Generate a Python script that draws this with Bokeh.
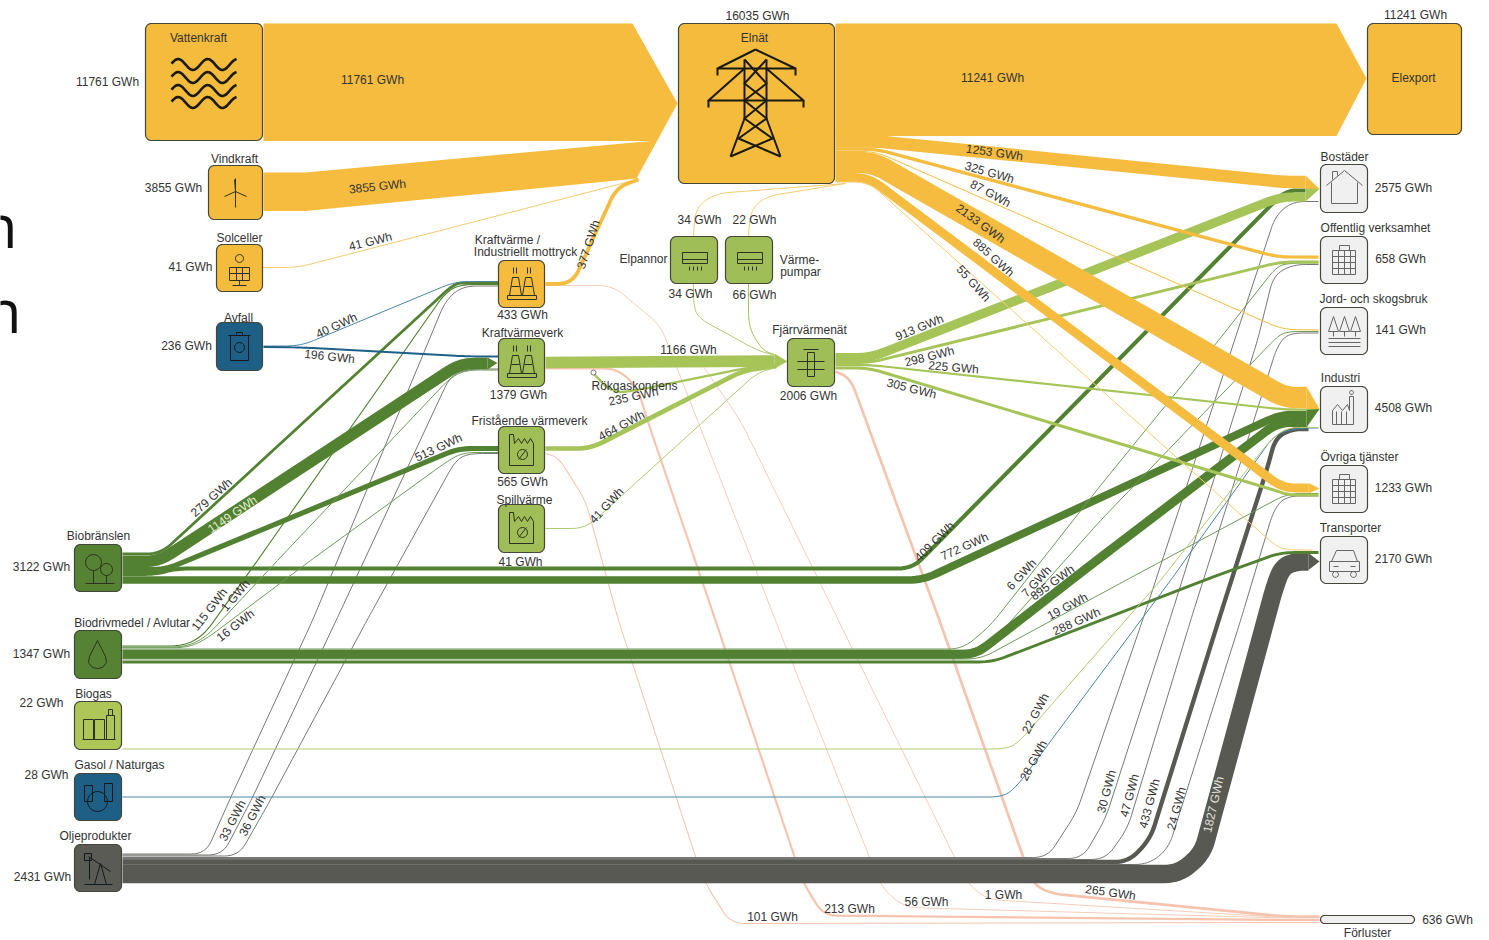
import math
from bokeh.plotting import figure
from bokeh.models import Range1d, ColumnDataSource
from bokeh.core.properties import value
from bokeh.embed import file_html
from bokeh.resources import INLINE

# ---------------- DATA ----------------
node_names = ["Vattenkraft", "Vindkraft", "Solceller", "Avfall", "Kraftvärme", "Kraftvärmeverk",
              "Fristående värmeverk", "Spillvärme", "Biobränslen", "Biodrivmedel / Avlutar", "Biogas",
              "Gasol / Naturgas", "Oljeprodukter", "Elnät", "Elexport", "Elpannor", "Värmepumpar",
              "Fjärrvärmenät", "Bostäder", "Offentlig verksamhet", "Jord- och skogsbruk", "Industri",
              "Övriga tjänster", "Transporter", "Förluster"]
node_values = [11761, 3855, 41, 236, 433, 1379, 565, 41, 3122, 1347, 22, 28, 2431, 16035, 11241, 34, 66,
               2006, 2575, 658, 141, 4508, 1233, 2170, 636]

flow_source = ["Vattenkraft", "Vindkraft", "Elnät"]
flow_value = [11761, 3855, 11241]

pink_values = [101, 213, 56, 1, 265]
gray_values = [1, 1, 1, 30, 30, 47, 433, 24, 1827]
gray_labels = [33, 36]
dark_values = [279, 1149, 513, 409, 772, 115, 1, 16, 6, 7, 895, 19, 288]
blue_values = [40, 196, 28]
light_values = [22, 1166, 34, 66, 235, 464, 41, 913, 298, 225, 305]
yellow_values = [41, 377, 1253, 325, 87, 2133, 885, 55, 34, 22]

unit_text = "GWh"

# ---------------- LAYOUT (pixel routes of the Sankey) ----------------
pink_routes = [
    [(545, 453), (558, 457), (585, 500), (618, 620), (694, 853), (705, 883), (730, 923), (1319, 922)],
    [(545, 368), (617, 368), (637, 387), (647, 420), (715, 620), (803, 883), (823, 915), (1284, 919.5), (1319, 919.5)],
    [(545, 285), (612, 285), (660, 325), (775, 620), (881, 887), (904, 907), (1284, 917.5), (1319, 917.5)],
    [(700, 362), (740, 420), (838, 620), (967, 883), (987, 899), (1284, 917), (1319, 917)],
    [(835, 371), (850, 378), (939, 620), (1032, 883), (1050, 893), (1284, 916), (1319, 916)],
]
gray_routes = [
    [(122, 853.5), (205, 853.5), (232, 793), (312, 620), (445, 300), (462, 285.5), (498, 285.5)],
    [(122, 854.5), (222, 854.5), (252, 797), (337, 617), (450, 375), (468, 368.5), (498, 368.5)],
    [(122, 855.5), (238, 855.5), (268, 803), (368, 617), (455, 460), (468, 453), (498, 453)],
    [(122, 857), (1047, 857), (1076, 812), (1143, 617), (1275, 215), (1292, 201), (1318, 201)],
    [(122, 858), (1082, 858), (1105, 818), (1170, 617), (1257, 340), (1273, 275), (1292, 264), (1318, 264)],
    [(122, 859), (1105, 859), (1127, 828), (1191, 617), (1277, 345), (1288, 332.5), (1318, 332.5)],
    [(122, 861.5), (1128, 861.5), (1150, 838), (1219, 617), (1267, 467), (1275, 437), (1292, 428.5), (1308, 428.5)],
    [(122, 864), (1148, 864), (1168, 848), (1241, 617), (1273, 510), (1285, 495.5), (1318, 495.5)],
    [(122, 873.5), (1178, 873.5), (1202, 853), (1274, 587), (1282, 566), (1297, 561), (1308, 561)],
]
dark_routes = [
    [(122, 553.5), (160, 553.5), (455, 282), (470, 283), (498, 283)],
    [(122, 561), (158, 561), (460, 363), (487, 363)],
    [(122, 569), (165, 569), (458, 448), (498, 448)],
    [(122, 573.5), (155, 573.5), (175, 568), (912, 568), (1285, 190), (1305, 190)],
    [(122, 579.5), (922, 579.5), (1280, 414), (1306, 414)],
    [(122, 645.5), (183, 645.5), (203, 635), (257, 560), (445, 292), (460, 284), (498, 284)],
    [(122, 646.5), (185, 646.5), (205, 637), (277, 560), (450, 377), (466, 369.5), (498, 369.5)],
    [(122, 647.2), (187, 647.2), (205, 639), (310, 560), (445, 462), (462, 452), (498, 452)],
    [(122, 648.5), (962, 648.5), (990, 625), (1100, 485), (1218, 340), (1277, 265), (1292, 262.5), (1318, 262.5)],
    [(122, 649.5), (978, 649.5), (1002, 630), (1100, 520), (1273, 340), (1284, 331), (1318, 331)],
    [(122, 654), (975, 654), (1100, 557), (1277, 422), (1306, 422)],
    [(122, 658.5), (980, 658.5), (1125, 580), (1287, 493), (1318, 493)],
    [(122, 661.5), (992, 661.5), (1203, 580), (1280, 552), (1318, 552)],
]
blue_routes = [
    [(263, 345.5), (300, 345.5), (455, 281), (498, 281)],
    [(263, 346.5), (303, 347), (469, 356), (498, 356)],
    [(122, 796.5), (1003, 796.5), (1017, 785), (1170, 580), (1275, 433), (1300, 427.5), (1318, 427.5)],
]
light_routes = [
    [(122, 748.5), (1004, 748.5), (1017, 743), (1160, 580), (1267, 443), (1285, 427), (1318, 427)],
    [(545, 362), (774, 360.5)],
    [(693, 283), (693, 303), (697, 317), (757, 350), (772, 354)],
    [(748, 283), (748, 327), (762, 350), (774, 354)],
    [(593, 373), (612, 393), (640, 389), (743, 368), (776, 364)],
    [(545, 448), (590, 448), (743, 370), (776, 365.5)],
    [(545, 528), (585, 528), (757, 372), (776, 367)],
    [(835, 357), (870, 357), (1280, 196.5), (1305, 196.5)],
    [(835, 362), (870, 362), (1280, 261.5), (1318, 261.5)],
    [(835, 364.5), (870, 364.5), (1283, 409), (1318, 409)],
    [(835, 367.5), (868, 367.5), (1275, 490), (1288, 494.5), (1318, 494.5)],
]
yellow_routes = [
    [(262, 267), (297, 267), (637, 179)],
    [(545, 283.5), (572, 283), (616, 187), (638, 179)],
    [(835, 141), (878, 141), (1284, 181.5), (1305, 181.5)],
    [(835, 148.5), (875, 148.5), (1277, 256.5), (1318, 256.5)],
    [(835, 151), (875, 151), (1282, 329), (1318, 329.5)],
    [(835, 162), (873, 162), (1284, 397), (1306, 397)],
    [(835, 177), (868, 177), (1282, 487.5), (1308, 487.5)],
    [(835, 181.5), (868, 181.5), (1277, 547), (1290, 549.5), (1312, 549.5)],
    [(845, 183), (715, 193), (695, 207), (693, 236)],
    [(845, 183), (765, 196), (750, 210), (748, 236)],
]
route_radius = 14

node_boxes = [
    (145, 23, 262, 140), (208, 165, 262, 219), (216, 244, 262, 291), (216, 322, 262, 370),
    (498, 260, 544, 307), (498, 338, 544, 386), (498, 426, 544, 473), (498, 504, 544, 552),
    (74, 544, 121, 591), (74, 630, 121, 678), (74, 701, 121, 749), (74, 773, 121, 820), (74, 844, 121, 891),
    (678, 23, 834, 183), (1367, 23, 1461, 134), (670, 236, 717, 283), (725, 236, 772, 283), (787, 338, 834, 386),
    (1320, 164, 1367, 212), (1320, 236, 1367, 283), (1320, 307, 1367, 354), (1320, 386, 1367, 432),
    (1320, 465, 1367, 512), (1320, 536, 1367, 583), (1320, 915, 1414, 923),
]
YEL, LGR, DGR, BLU, GRY, LIG = "#F4BB3C", "#A0BE57", "#558233", "#1E5F86", "#5A5B54", "#F0F0F0"
node_fills = [YEL, YEL, YEL, BLU, YEL, LGR, LGR, LGR, DGR, DGR, "#AEC657", BLU, GRY, YEL, YEL, LGR, LGR, LGR,
              LIG, LIG, LIG, LIG, LIG, LIG, LIG]

TXT = "#333333"
def g(v):
    return f"{v} {unit_text}"

node_label_texts = [g(11761), g(3855), g(41), g(236), g(3122), g(1347), g(22), g(28), g(2431),
    "Vattenkraft", "Vindkraft", "Solceller", "Avfall", "Kraftvärme /", "Industriellt mottryck", g(433),
    "Kraftvärmeverk", g(1379), "Fristående värmeverk", g(565), "Spillvärme", g(41),
    "Biobränslen", "Biodrivmedel / Avlutar", "Biogas", "Gasol / Naturgas", "Oljeprodukter",
    g(16035), "Elnät", g(11241), "Elexport", g(34), g(22), "Elpannor", "Värme-", "pumpar", g(34), g(66),
    "Fjärrvärmenät", g(2006), "Rökgaskondens", "Bostäder", g(2575), "Offentlig verksamhet", g(658),
    "Jord- och skogsbruk", g(141), "Industri", g(4508), "Övriga tjänster", g(1233), "Transporter", g(2170),
    g(636), "Förluster"]
node_label_pos = [(107, 81), (173, 187), (190, 266), (186, 345), (41, 566), (41, 653), (41, 702), (46, 774), (42, 876),
    (198, 37), (234, 158), (239, 237), (238, 317), (507, 239), (525, 251), (522, 314),
    (522, 332), (518, 394), (529, 420), (522, 481), (524, 499), (520, 561),
    (98, 535), (132, 622), (93, 693), (119, 764), (95, 835),
    (757, 15), (754, 37), (1415, 14), (1413, 77), (699, 219), (754, 219), (643, 258), (799, 259), (800, 271), (690, 293), (754, 294),
    (809, 329), (808, 395), (634, 385), (1344, 156), (1403, 187), (1375, 227), (1400, 258),
    (1373, 298), (1400, 329), (1340, 377), (1403, 407), (1359, 456), (1403, 487), (1350, 527), (1403, 558),
    (1447, 919), (1367, 932)]

flow_label_values = [11761, 3855, 41, 377, 40, 196, 279, 1149, 513, 1166, 235, 464, 41, 115, 1, 16, 33, 36,
    11241, 1253, 325, 87, 2133, 885, 55, 913, 298, 225, 305, 409, 772, 6, 7, 895, 19, 288, 22, 28,
    30, 47, 433, 24, 1827, 101, 213, 56, 1, 265]
flow_label_pos = [(372, 79, 0), (377, 186, 6), (370, 241, 14), (588, 244, 72), (336, 325, 25), (329, 356, -6),
    (211, 497, 42), (232, 514, 34), (438, 447, 25), (688, 349, 0), (633, 396, 12), (621, 425, 28), (606, 505, 47),
    (209, 609, 52), (235, 595, 50), (235, 625, 38), (232, 820, 63), (252, 815, 63),
    (992, 77, 0), (994, 152, -8), (989, 172, -16), (990, 193, -28), (980, 223, -36), (993, 257, -42), (973, 283, -48),
    (919, 327, 22), (929, 356, 14), (953, 367, -5), (911, 388, -14), (934, 541, 45), (964, 546, 24),
    (1021, 574, 47), (1036, 581, 47), (1052, 582, 36), (1067, 606, 28), (1076, 621, 24), (1035, 713, 62), (1033, 760, 62),
    (1106, 791, 75), (1129, 795, 75), (1149, 803, 75), (1176, 808, 75), (1213, 804, 77),
    (772, 916, 0), (849, 908, 0), (926, 901, 0), (1003, 894, 0), (1110, 892, -8)]


def smooth(pts, r=route_radius):
    xs, ys = [pts[0][0]], [pts[0][1]]
    for i in range(1, len(pts) - 1):
        p0, q, p2 = pts[i - 1], pts[i], pts[i + 1]
        d1 = math.hypot(q[0] - p0[0], q[1] - p0[1])
        d2 = math.hypot(p2[0] - q[0], p2[1] - q[1])
        t1 = min(r, d1 / 2) / d1
        t2 = min(r, d2 / 2) / d2
        a = (q[0] + (p0[0] - q[0]) * t1, q[1] + (p0[1] - q[1]) * t1)
        b = (q[0] + (p2[0] - q[0]) * t2, q[1] + (p2[1] - q[1]) * t2)
        for k in range(9):
            u = k / 8
            xs.append((1 - u) ** 2 * a[0] + 2 * u * (1 - u) * q[0] + u ** 2 * b[0])
            ys.append((1 - u) ** 2 * a[1] + 2 * u * (1 - u) * q[1] + u ** 2 * b[1])
    xs.append(pts[-1][0])
    ys.append(pts[-1][1])
    return xs, ys


p = figure(width=1489, height=940, x_range=Range1d(0, 1489), y_range=Range1d(940, 0),
           toolbar_location=None, output_backend="svg", min_border=0, outline_line_color=None,
           x_axis_type=None, y_axis_type=None)
p.grid.visible = False

# Clipped stray letters at the left edge of the reference
p.text([17, 21], [224, 309], text=["n", "n"], text_font=value("Open Sans"), text_font_size="60px",
       text_align="right", text_baseline="alphabetic", text_color="#111111")


def draw_links(values, routes, color, thin_color, thin_limit=60, alpha=1.0):
    xs, ys, widths, cols = [], [], [], []
    for v, r in zip(values, routes):
        x, y = smooth(r)
        xs.append(x)
        ys.append(y)
        widths.append(max(v / 100, 1.0))
        cols.append(thin_color if v < thin_limit else color)
    src = ColumnDataSource(dict(xs=xs, ys=ys, w=widths, c=cols))
    p.multi_line("xs", "ys", source=src, line_width="w", line_color="c", line_join="round",
                 line_cap="butt", line_alpha=alpha)


draw_links(pink_values, pink_routes, "#F5C3AE", "#F5CDBD")
draw_links(gray_values, gray_routes, "#585952", "#777873")
draw_links(dark_values, dark_routes, "#528231", "#6E9A5A")
draw_links(blue_values, blue_routes, "#1F6088", "#4A86A8")
draw_links(light_values, light_routes, "#A6C458", "#B0CB70")

LY, LG, DG, GY = "#F5BC3F", "#A6C458", "#528231", "#585952"
pv = flow_value[0] / 100
pw = flow_value[1] / 100
pe = flow_value[2] / 100
p.patches(
    [[263, 632, 677, 656, 263],
     [263, 305, 656, 677, 636, 305, 263],
     [835, 1336, 1366, 1336, 835]],
    [[23, 23, 103, 23 + pv, 23 + pv],
     [172, 172, 140, 103, 178, 172 + pw, 172 + pw],
     [23, 23, 78, 23 + pe, 23 + pe]],
    fill_color=LY, line_color=None)

tip_x = [[1305, 1319, 1305], [1305, 1319, 1305], [1306, 1319, 1306], [1306, 1319, 1306],
         [1308, 1319, 1308], [1308, 1319, 1308], [487, 497, 487], [774, 787, 774]]
tip_y = [[175, 188.5, 188.5], [188, 188.5, 201], [386, 408.5, 408.5], [409.5, 408.5, 427],
         [482.5, 488, 493], [552.5, 561, 569.5], [357, 362.5, 369], [353, 361, 368]]
tip_c = [LY, LG, LY, DG, LY, GY, DG, LG]

draw_links(yellow_values, yellow_routes, "#F5BC3F", "#F6CB6E")
p.patches(tip_x, tip_y, fill_color=tip_c, line_color=None)

p.scatter([593], [372], size=5, fill_color="white", line_color="#777777", line_width=1)


def rounded(x0, y0, x1, y1, r):
    r = min(r, (y1 - y0) / 2, (x1 - x0) / 2)
    xs, ys = [], []
    for cx, cy, a0 in [(x1 - r, y0 + r, -90), (x1 - r, y1 - r, 0), (x0 + r, y1 - r, 90), (x0 + r, y0 + r, 180)]:
        for k in range(7):
            a = math.radians(a0 + 15 * k)
            xs.append(cx + r * math.cos(a))
            ys.append(cy + r * math.sin(a))
    return xs, ys


bx, by = [], []
for b in node_boxes:
    x, y = rounded(*b, 6)
    bx.append(x)
    by.append(y)
p.patches(bx, by, fill_color=node_fills, line_color="#43463A", line_width=1.2)


def circ(cx, cy, r, n=20):
    return [(cx + r * math.cos(2 * math.pi * k / n), cy + r * math.sin(2 * math.pi * k / n)) for k in range(n + 1)]


def rect(a, b, c, d):
    return [(a, b), (c, b), (c, d), (a, d), (a, b)]


chp = [[(14, 17), (20, 17), (23, 35), (11, 35), (14, 17)], [(13, 26), (21, 26)],
       [(27, 17), (33, 17), (36, 35), (24, 35), (27, 17)], [(26, 26), (34, 26)],
       rect(9, 35, 38, 39), [(15, 7), (15, 13)], [(18, 7), (18, 13)], [(29, 7), (29, 13)], [(32, 7), (32, 13)]]
factory = [[(11, 39), (11, 8), (15, 8), (16, 17), (20, 12), (23, 17), (26, 12), (29, 17), (32, 12), (35, 17), (35, 39), (11, 39)],
           circ(24, 28, 5), [(20, 33), (28, 23)]]
ac = [rect(12, 16, 37, 27), [(12, 23), (37, 23)], [(19, 30), (19, 34)], [(23, 30), (23, 34)], [(27, 30), (27, 34)], [(31, 30), (31, 34)]]
building = [rect(12, 14, 35, 38), [(12, 20), (35, 20)], [(12, 26), (35, 26)], [(12, 32), (35, 32)],
            [(18, 14), (18, 38)], [(24, 14), (24, 38)], [(30, 14), (30, 38)], rect(19, 9, 29, 14)]
forest = [[(13, 9), (8, 24), (18, 24), (13, 9)], [(24, 9), (19, 24), (29, 24), (24, 9)], [(35, 9), (30, 24), (40, 24), (35, 9)],
          [(13, 24), (13, 29)], [(24, 24), (24, 29)], [(35, 24), (35, 29)],
          [(8, 31), (40, 31)], [(8, 35), (40, 35)], [(8, 39), (40, 39)]]
icons = {
    "Vindkraft": [[(27, 13), (27, 42)], [(27, 26), (16, 31)], [(27, 26), (38, 31)], [(27, 26), (26, 14)]],
    "Solceller": [rect(13, 23, 33, 36), [(13, 29), (33, 29)], [(20, 23), (20, 36)], [(26, 23), (26, 36)], circ(23, 14, 4), [(23, 36), (23, 41)], [(16, 41), (30, 41)]],
    "Avfall": [rect(14, 13, 32, 38), [(12, 13), (34, 13)], rect(20, 10, 26, 13), circ(23, 25, 5)],
    "Kraftvärme": chp, "Kraftvärmeverk": chp, "Fristående värmeverk": factory, "Spillvärme": factory,
    "Biobränslen": [circ(19, 18, 8), [(19, 26), (19, 39)], circ(32, 25, 6), [(32, 31), (32, 39)], [(11, 39), (40, 39)]],
    "Biodrivmedel / Avlutar": [[(23, 10), (31, 26), (32, 32), (28, 37), (23, 38), (18, 37), (14, 32), (15, 26), (23, 10)]],
    "Biogas": [rect(9, 18, 19, 38), rect(20, 18, 30, 38), rect(32, 14, 40, 38), rect(34, 8, 38, 14), [(8, 38), (41, 38)]],
    "Gasol / Naturgas": [circ(23, 28, 10), rect(10, 12, 18, 28), rect(30, 10, 38, 28)],
    "Oljeprodukter": [[(14, 12), (36, 27)], [(20, 40), (26, 19), (32, 40)], [(15, 13), (15, 35)], [(10, 40), (38, 40)], rect(10, 9, 17, 16)],
    "Elpannor": ac, "Värmepumpar": ac,
    "Fjärrvärmenät": [rect(20, 14, 27, 38), [(10, 23), (37, 23)], [(10, 31), (37, 31)], [(16, 11), (31, 11)]],
    "Bostäder": [[(6, 21), (24, 6), (42, 21)], [(11, 18), (11, 39), (37, 39), (37, 18)], [(12, 15), (12, 7), (17, 7), (17, 11)]],
    "Offentlig verksamhet": building,
    "Jord- och skogsbruk": forest,
    "Industri": [[(12, 38), (12, 24), (17, 18), (22, 24), (27, 18), (29, 24), (29, 10), (33, 10), (33, 38), (12, 38)], [(16, 25), (16, 38)], [(21, 25), (21, 38)], [(26, 25), (26, 38)], circ(31, 6, 2, 10)],
    "Övriga tjänster": building,
    "Transporter": [[(11, 25), (16, 14), (33, 14), (37, 25)], rect(9, 25, 39, 35), circ(15, 38, 3, 10), circ(33, 38, 3, 10), [(13, 30), (18, 30)], [(30, 30), (35, 30)]],
}
dark_icon = {"Avfall", "Gasol / Naturgas", "Oljeprodukter"}
ix, iy, ic, iw = [], [], [], []
for name, lines in icons.items():
    b = node_boxes[node_names.index(name)]
    for ln in lines:
        ix.append([b[0] + q[0] for q in ln])
        iy.append([b[1] + q[1] for q in ln])
        grey = b[0] >= 1320
        ic.append("#666666" if grey else ("#111a20" if name in dark_icon else "#2b3320"))
        iw.append(1.0)

vb = node_boxes[0]
for c in (41, 54, 67, 79):
    xs = [vb[0] + 26 + 65 * k / 40 for k in range(41)]
    ys = [vb[1] + c + 5.5 * math.sin(k / 40 * 4.4 * math.pi + 3.3) for k in range(41)]
    ix.append(xs); iy.append(ys); ic.append("#1a1a10"); iw.append(2.6)
eb = node_boxes[node_names.index("Elnät")]
pylon = [[(77, 26), (39, 45), (117, 45), (77, 26)], [(39, 45), (39, 52)], [(117, 45), (117, 52)],
         [(66, 45), (30, 77), (125, 77), (88, 45)], [(30, 77), (30, 84)], [(125, 77), (125, 84)],
         [(66, 36), (66, 95), (52, 133)], [(88, 36), (88, 95), (102, 133)],
         [(66, 36), (88, 60), (66, 77), (88, 95), (60, 115), (102, 133)],
         [(88, 36), (66, 60), (88, 77), (66, 95), (94, 115), (52, 133)]]
for ln in pylon:
    ix.append([eb[0] + q[0] for q in ln]); iy.append([eb[1] + q[1] for q in ln]); ic.append("#1a1a10"); iw.append(2.0)
p.multi_line(ix, iy, line_color=ic, line_width=iw, line_join="round")

FONT = value("Liberation Sans")
p.text([q[0] for q in node_label_pos], [q[1] for q in node_label_pos], text=node_label_texts, text_font=FONT,
       text_font_size="12px", text_align="center", text_baseline="middle", text_color=TXT)
flow_colors = [("#E6EED6" if v == 1149 else "#E2E2DC" if v == 1827 else TXT) for v in flow_label_values]
p.text([q[0] for q in flow_label_pos], [q[1] for q in flow_label_pos], text=[g(v) for v in flow_label_values],
       angle=[q[2] for q in flow_label_pos], angle_units="deg", text_font=FONT, text_font_size="12px",
       text_align="center", text_baseline="middle", text_color=flow_colors)

open("out.html", "w").write(file_html(p, INLINE))
